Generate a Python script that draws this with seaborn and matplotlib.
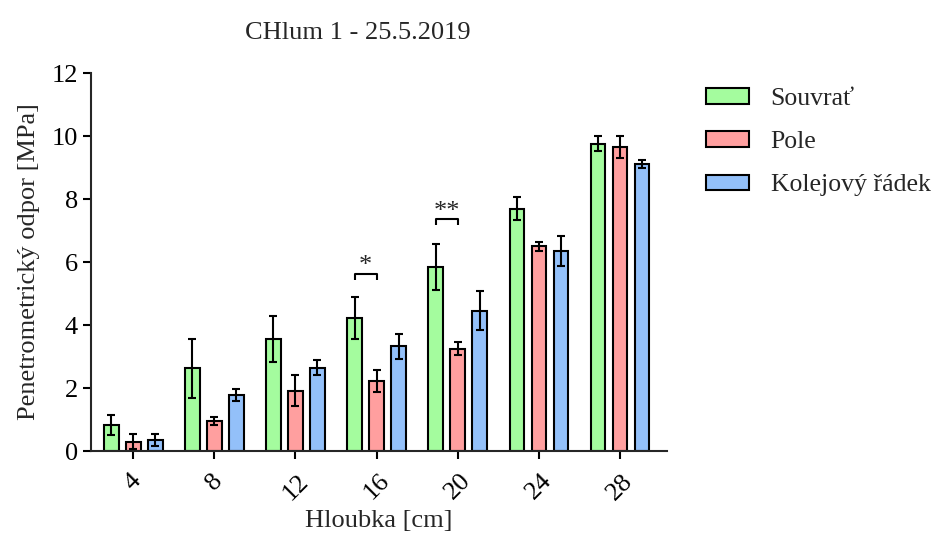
import matplotlib
matplotlib.use("Agg")
import matplotlib.pyplot as plt
import pandas as pd
import seaborn as sns

# values (means and error half-widths, MPa)
depths = ["4", "8", "12", "16", "20", "24", "28"]
groups = ["Souvrať", "Pole", "Kolejový řádek"]
souvrat = [0.82, 2.62, 3.55, 4.22, 5.85, 7.69, 9.75]
souvrat_err = [0.32, 0.93, 0.73, 0.66, 0.73, 0.36, 0.24]
pole = [0.30, 0.95, 1.92, 2.22, 3.25, 6.50, 9.65]
pole_err = [0.24, 0.13, 0.50, 0.35, 0.20, 0.15, 0.34]
kolej = [0.35, 1.77, 2.65, 3.33, 4.46, 6.36, 9.12]
kolej_err = [0.19, 0.19, 0.23, 0.40, 0.61, 0.48, 0.13]
colors = ["#a4fc9e", "#ff9f9f", "#93c0f9"]

# significance brackets between Souvrať and Pole
sig_depths = ["16", "20"]
sig_heights = [5.62, 7.35]
sig_labels = ["*", "**"]

means = [souvrat, pole, kolej]
errs = [souvrat_err, pole_err, kolej_err]

df = pd.DataFrame(
    [(d, g, m) for g, vals in zip(groups, means) for d, m in zip(depths, vals)],
    columns=["depth", "group", "value"],
)

sns.set_style("ticks")
plt.rcParams["font.family"] = ["Liberation Serif", "DejaVu Serif"]
plt.rcParams["axes.linewidth"] = 1.5
FS = 19

fig = plt.figure(figsize=(9.33, 5.38), dpi=100)
ax = fig.add_axes([0.0975, 0.1617, 0.6175, 0.7026])

sns.barplot(
    data=df, x="depth", y="value", hue="group", order=depths, hue_order=groups,
    palette=colors, saturation=1, errorbar=None, width=0.813, gap=0.33,
    edgecolor="black", linewidth=1.5, ax=ax,
)

for cont, err in zip(ax.containers, errs):
    xs = [p.get_x() + p.get_width() / 2 for p in cont.patches]
    ys = [p.get_height() for p in cont.patches]
    ax.errorbar(xs, ys, yerr=err, fmt="none", ecolor="black",
                elinewidth=1.5, capsize=3, capthick=1.5, zorder=5)

# brackets from Souvrať bar centre to Pole bar centre
for d, h, lab in zip(sig_depths, sig_heights, sig_labels):
    i = depths.index(d)
    g = ax.containers[0].patches[i]
    p = ax.containers[1].patches[i]
    x0 = g.get_x() + g.get_width() / 2
    x1 = p.get_x() + p.get_width() / 2
    ax.plot([x0, x0, x1, x1], [h - 0.19, h, h, h - 0.19], color="black",
            lw=1.5, solid_capstyle="butt", clip_on=False)
    ax.text((x0 + x1) / 2, h - 0.1, lab, ha="center", va="bottom", fontsize=FS)

ax.set_xlim(-0.52, 6.58)
ax.set_ylim(0, 12)
ax.set_yticks(range(0, 13, 2))
sns.despine(ax=ax)
ax.tick_params(axis="both", direction="out", length=5.5, width=1.5,
               labelsize=FS, colors="black")
ax.tick_params(axis="x", pad=8)
ax.tick_params(axis="y", pad=4)
plt.setp(ax.get_xticklabels(), rotation=45, ha="center")
ax.set_xlabel("Hloubka [cm]", fontsize=FS, labelpad=4)
ax.set_ylabel("Penetrometrický odpor [MPa]", fontsize=FS, labelpad=8)

fig.text(0.384, 0.938, "CHlum 1 - 25.5.2019", ha="center", va="center", fontsize=FS)

handles, labels = ax.get_legend_handles_labels()
ax.legend_.remove()
fig.legend(handles, labels, loc="upper left", bbox_to_anchor=(0.757, 0.836),
           frameon=False, fontsize=18.5, handlelength=1.65, handleheight=0.55,
           handletextpad=0.85, labelspacing=0.82, borderpad=0, borderaxespad=0)

fig.savefig("out.png", dpi=100)
